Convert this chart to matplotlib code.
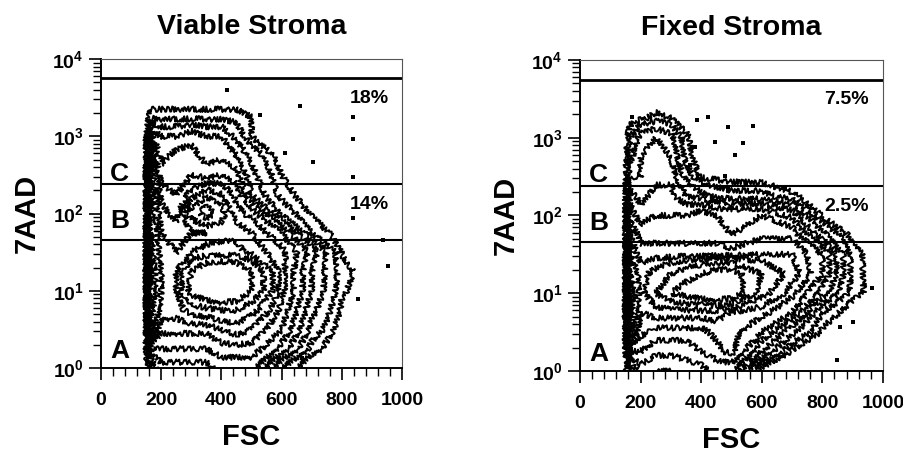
import numpy as np
import matplotlib.pyplot as plt
from matplotlib.ticker import MultipleLocator, LogLocator, FixedLocator, FixedFormatter, NullFormatter

plt.rcParams['font.family'] = ['Liberation Sans', 'DejaVu Sans']
plt.rcParams['font.weight'] = 'bold'
plt.rcParams['mathtext.fontset'] = 'custom'
plt.rcParams['mathtext.rm'] = 'Liberation Sans:bold'
plt.rcParams['mathtext.it'] = 'Liberation Sans:bold'
plt.rcParams['mathtext.bf'] = 'Liberation Sans:bold'

# grid nodes of the event-density maps (FSC linear, 7AAD in decades)
fsc_nodes = [148, 165, 200, 250, 300, 350, 400, 450, 500, 600, 700, 800, 900, 1000]
log_7aad_nodes = [0, 0.25, 0.5, 0.75, 1.0, 1.25, 1.5, 1.75, 2.0, 2.25, 2.5, 2.75, 3.0, 3.25, 3.5]

# relative event density, rows = 7AAD decades (bottom->top), cols = FSC nodes
viable_density = [
    [0, 3, 6, 6, 6, 6, 7, 7, 7, 2, 0, 0, 0, 0],
    [0, 8, 8, 8, 8, 8, 9, 9, 9, 6, 1.5, 0, 0, 0],
    [0, 14, 10, 10, 10, 10, 11, 12, 11, 8, 3, 0.3, 0, 0],
    [0, 17, 12, 12, 14, 15, 16, 16, 14, 9, 4, 0.8, 0, 0],
    [0, 18, 13, 13, 22, 26, 28, 26, 20, 10, 5, 1.2, 0, 0],
    [0, 18, 13, 13, 20, 24, 25, 24, 20, 10, 5, 1.5, 0.2, 0],
    [0, 17, 12, 11, 13, 14, 14, 14, 12, 10, 6, 0.9, 0, 0],
    [0, 16, 11, 10, 11, 11, 12, 12, 11, 8, 2, 0.3, 0, 0],
    [0, 15, 10, 9, 14, 18, 14, 10, 9, 3, 0.8, 0, 0, 0],
    [0, 14, 9, 8, 10, 12, 11, 9, 5, 1.5, 0.3, 0, 0, 0],
    [0, 12, 7, 7, 8, 7, 8, 7, 4, 1, 0, 0, 0, 0],
    [0, 10, 6, 7, 7, 6, 6, 5, 3, 0.3, 0, 0, 0, 0],
    [0, 7, 5, 5, 6, 5, 5, 3, 1, 0, 0, 0, 0, 0],
    [0, 1.5, 1.5, 1.5, 1.5, 1.5, 1.5, 1.5, 1, 0, 0, 0, 0, 0],
    [0, 0, 0, 0, 0, 0, 0, 0, 0, 0, 0, 0, 0, 0],
]

fixed_density = [
    [0, 3, 6, 5, 5, 6, 6, 7, 7, 0.3, 0, 0, 0, 0],
    [0, 8, 8, 7, 7, 7, 8, 9, 10, 5, 0.8, 0, 0, 0],
    [0, 14, 10, 9, 9, 9, 9, 10, 10, 8, 4, 0.8, 0, 0],
    [0, 17, 11, 12, 12, 12, 12, 12, 11, 10, 8, 2, 0.2, 0],
    [0, 18, 12, 16, 20, 22, 24, 26, 24, 14, 10, 6, 1.6, 0],
    [0, 16, 12, 14, 16, 18, 20, 22, 22, 16, 12, 8, 1.5, 0],
    [0, 13, 10, 10, 10, 10, 10, 10, 10, 11, 11, 8, 1.5, 0],
    [0, 11, 9, 9, 9, 9, 9, 9, 8, 9, 9, 4, 0.4, 0],
    [0, 9, 7, 8, 8, 8, 9, 8, 8, 8, 6, 0.8, 0, 0],
    [0, 7, 6, 7, 7, 5, 4, 3, 2.5, 2.5, 1.2, 0.3, 0, 0],
    [0, 5, 5, 6, 6, 3, 0.8, 0.5, 0.3, 0.1, 0, 0, 0, 0],
    [0, 3, 5, 6, 5, 1.5, 0.3, 0, 0, 0, 0, 0, 0, 0],
    [0, 2, 4, 5, 4, 1.2, 0.2, 0, 0, 0, 0, 0, 0, 0],
    [0, 0.3, 0.8, 1.3, 1, 0.3, 0, 0, 0, 0, 0, 0, 0, 0],
    [0, 0, 0, 0, 0, 0, 0, 0, 0, 0, 0, 0, 0, 0],
]

contour_levels = [1, 2, 3.5, 5, 6.5, 8, 9.5, 11, 13, 16, 20]

# isolated events outside the contours
viable_out_fsc = [836, 836, 836, 836, 661, 705, 611, 953, 855, 937, 667, 418, 528]
viable_out_7aad = [1780, 910, 295, 87, 2500, 470, 600, 21, 7.8, 46, 1.35, 4000, 1860]
fixed_out_fsc = [171, 385, 423, 488, 571, 446, 538, 512, 380, 363, 479, 963, 901, 858, 848]
fixed_out_7aad = [1860, 1700, 1860, 1380, 1410, 890, 850, 600, 760, 450, 320, 11.7, 4.3, 3.7, 1.4]

# gate boundaries (A/B and B/C) and upper limit line
gates = [46, 240, 5600]
panels = [
    ('Viable Stroma', viable_density, viable_out_fsc, viable_out_7aad, '18%', '14%'),
    ('Fixed Stroma', fixed_density, fixed_out_fsc, fixed_out_7aad, '7.5%', '2.5%'),
]

fig = plt.figure(figsize=(9.04, 4.54), dpi=100)
positions = [[0.1117, 0.189, 0.333, 0.681], [0.6416, 0.183, 0.335, 0.685]]

y_nodes = 10.0 ** np.array(log_7aad_nodes)

for pos, (title, dens, ox, oy, pct_c, pct_b) in zip(positions, panels):
    ax = fig.add_axes(pos)
    ax.set_yscale('log')
    cs = ax.contour(fsc_nodes, y_nodes, np.array(dens), levels=contour_levels,
                    colors='k', linewidths=1.4)
    cs.set_sketch_params(2.8, 2.2, 5.0)
    ax.plot(ox, oy, 's', color='k', ms=2.2, mew=0)

    ax.axhline(gates[0], color='k', lw=1.5)
    ax.axhline(gates[1], color='k', lw=1.5)
    ax.axhline(gates[2], color='k', lw=2.0)

    ax.text(62, 330, 'C', fontsize=19, ha='center', va='center')
    ax.text(62, 80, 'B', fontsize=19, ha='center', va='center')
    ax.text(62, 1.65, 'A', fontsize=19, ha='center', va='center')
    ax.text(955, 3100, pct_c, fontsize=14, ha='right', va='center')
    ax.text(955, 130, pct_b, fontsize=14, ha='right', va='center')

    ax.set_xlim(0, 1000)
    ax.set_ylim(1, 10000)
    ax.xaxis.set_major_locator(MultipleLocator(200))
    ax.xaxis.set_minor_locator(MultipleLocator(40))
    ax.yaxis.set_major_locator(FixedLocator([1, 10, 100, 1000, 10000]))
    ax.yaxis.set_major_formatter(FixedFormatter([r'$10^{0}$', r'$10^{1}$', r'$10^{2}$',
                                                 r'$10^{3}$', r'$10^{4}$']))
    ax.yaxis.set_minor_locator(LogLocator(base=10, subs=np.arange(2, 10), numticks=20))
    ax.yaxis.set_minor_formatter(NullFormatter())
    ax.tick_params(axis='both', which='major', direction='out', length=8.5, width=1.2,
                   labelsize=14, pad=4)
    ax.tick_params(axis='x', which='major', pad=9)
    ax.tick_params(axis='both', which='minor', direction='out', length=5.5, width=1.0)
    for lbl in ax.get_xticklabels():
        lbl.set_fontweight('bold')

    for side in ['left', 'bottom']:
        ax.spines[side].set_linewidth(1.4)
    for side in ['top', 'right']:
        ax.spines[side].set_linewidth(0.8)
        ax.spines[side].set_color('#555555')

    ax.set_title(title, fontsize=20.5, fontweight='bold', pad=18)
    ax.set_xlabel('FSC', fontsize=21, fontweight='bold', labelpad=10)
    ax.set_ylabel('7AAD', fontsize=21, fontweight='bold', labelpad=8)

fig.savefig('out.png', dpi=100)
